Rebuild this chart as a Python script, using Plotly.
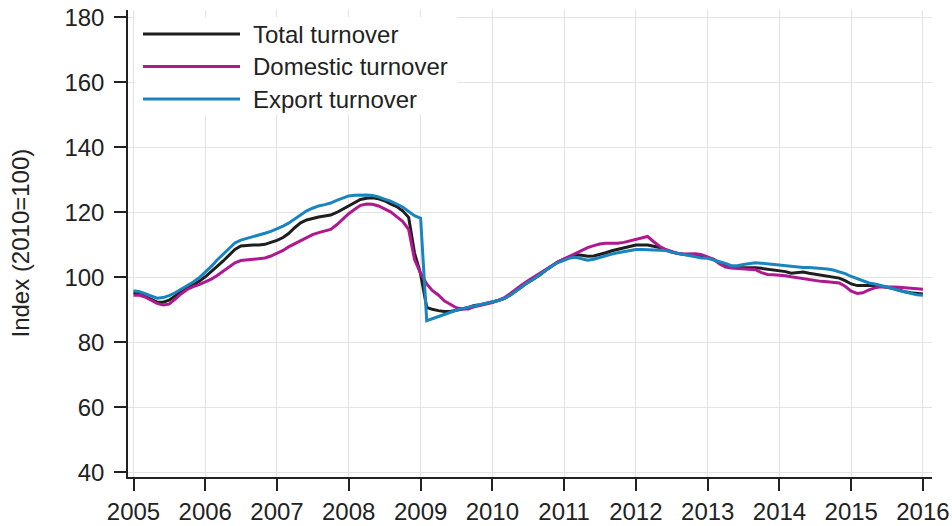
import pandas as pd
import plotly.graph_objects as go

# Monthly index values, Jan 2005 .. Jan 2016 (2010=100)
months = pd.date_range("2005-01-01", "2016-01-01", freq="MS")

total = [
    95.3, 95.0, 94.2, 93.2, 92.4, 92.4, 93.0, 94.3, 95.6, 96.8, 97.8, 98.8,
    100.2, 101.7, 103.3, 105.0, 106.8, 108.6, 109.7, 109.9, 110.0, 110.0, 110.2, 110.8,
    111.4, 112.3, 113.5, 115.3, 116.8, 117.7, 118.2, 118.6, 118.9, 119.2, 120.0, 121.0,
    122.0, 123.2, 124.0, 124.4, 124.5, 124.2, 123.6, 122.6, 121.8, 120.5, 118.5, 107.5,
    101.0, 90.8, 90.2, 89.8, 89.5, 89.5, 89.8, 90.3, 90.8, 91.4, 91.6, 92.0,
    92.5, 92.9, 93.5, 94.5, 95.8, 97.3, 98.5, 99.6, 100.8, 102.3, 103.6, 104.8,
    105.6, 106.3, 107.0, 106.8, 106.5, 106.6, 107.0, 107.6, 108.2, 108.7, 109.2, 109.6,
    110.0, 110.0, 110.0, 109.6, 109.2, 108.5, 107.8, 107.4, 107.2, 107.0, 106.8, 106.4,
    106.1, 105.5, 104.6, 103.8, 103.2, 103.1, 103.1, 103.1, 103.0, 102.8, 102.6, 102.4,
    102.1, 101.8, 101.3, 101.5, 101.7, 101.3, 101.0, 100.8, 100.6, 100.3, 99.8, 99.0,
    98.0, 97.5, 97.4, 97.5, 97.6, 97.4, 97.0, 96.6, 96.0, 95.6, 95.3, 95.0, 94.9,
]

domestic = [
    94.5, 94.5, 94.0, 93.0, 92.0, 91.5, 91.8, 93.3, 95.0, 96.3, 97.2, 97.8,
    98.6, 99.5, 100.5, 101.8, 103.2, 104.5, 105.2, 105.4, 105.5, 105.6, 106.0, 106.6,
    107.5, 108.3, 109.4, 110.4, 111.3, 112.2, 113.2, 113.8, 114.3, 114.8, 116.2, 118.0,
    119.6, 121.0, 122.2, 122.6, 122.5, 122.0, 121.2, 120.2, 118.7, 117.3, 114.8, 105.5,
    101.3, 98.0, 96.0, 94.6, 92.8, 91.7, 90.7, 90.3, 90.3, 91.0, 91.4, 91.9,
    92.3, 93.0, 93.7, 95.0, 96.5, 97.8, 99.0, 100.2, 101.4, 102.5, 103.7, 104.8,
    105.7, 106.6, 107.5, 108.2, 109.2, 109.8, 110.3, 110.5, 110.5, 110.5, 110.8, 111.3,
    111.8, 112.3, 112.6, 111.0, 109.6, 108.6, 107.9, 107.4, 107.2, 107.3, 107.3, 107.0,
    106.4, 105.6, 104.2, 103.2, 102.9, 102.8, 102.8, 102.7, 102.4, 101.5, 100.9, 100.8,
    100.7, 100.5, 100.2, 99.9, 99.6, 99.3, 99.0, 98.8, 98.7, 98.5, 98.3, 97.3,
    95.8, 95.1, 95.3, 96.2, 96.8, 97.1, 97.2, 97.1, 97.0, 96.8, 96.6, 96.5, 96.4,
]

export = [
    95.9, 95.6, 95.0, 94.2, 93.6, 93.8, 94.4, 95.3, 96.4, 97.5, 98.6, 99.9,
    101.6, 103.4, 105.3, 107.1, 109.0, 110.6, 111.5, 112.0, 112.4, 112.9, 113.6, 114.2,
    114.9, 115.8, 116.7, 118.0, 119.4, 120.5, 121.3, 122.0, 122.4, 122.9, 123.7, 124.4,
    125.1, 125.3, 125.4, 125.4, 125.2, 124.8, 124.1, 123.5, 122.6, 121.7, 120.3, 119.0,
    118.2, 86.7, 87.3, 88.0, 88.6, 89.3, 89.9, 90.4, 90.8, 91.2, 91.6, 92.0,
    92.5, 92.9, 93.5, 94.5, 95.8, 97.2, 98.5, 99.6, 100.8, 102.2, 103.5, 104.6,
    105.3, 106.0, 106.2, 105.8, 105.3, 105.6, 106.2, 106.7, 107.2, 107.6, 108.0, 108.4,
    108.6, 108.6, 108.5, 108.6, 108.5, 108.3, 107.8, 107.4, 107.0, 106.7, 106.4, 106.0,
    105.9, 105.4, 105.0, 104.3, 103.6, 103.6, 104.0, 104.3, 104.5, 104.4, 104.2, 103.9,
    103.7, 103.5, 103.3, 103.2, 103.1, 103.1, 103.0, 102.8, 102.6, 102.3, 101.8, 101.2,
    100.3, 99.6, 98.9, 98.3, 98.0, 97.6, 97.1, 96.6, 96.0, 95.5, 95.0, 94.7, 94.5,
]

series_names = ["Total turnover", "Domestic turnover", "Export turnover"]
series_values = [total, domestic, export]
series_colors = ["#1e1e1e", "#b0188f", "#1a84bf"]

y_ticks = [40, 60, 80, 100, 120, 140, 160, 180]
x_ticks = [f"{y}-01-01" for y in range(2005, 2017)]
x_labels = [str(y) for y in range(2005, 2017)]

FONT = "Liberation Sans, Arial, sans-serif"
FS = 24
TXT = "#222222"

fig = go.Figure()
for name, vals, col in zip(series_names, series_values, series_colors):
    fig.add_trace(go.Scatter(
        x=months, y=vals, mode="lines", name=name,
        line=dict(color=col, width=3), showlegend=False,
    ))

fig.update_layout(
    width=952, height=526,
    margin=dict(l=128, r=20, t=10, b=49, autoexpand=False),
    paper_bgcolor="white", plot_bgcolor="white",
    font=dict(family=FONT, size=FS, color=TXT),
)

fig.update_xaxes(
    type="date", automargin=False,
    range=["2004-12-04", "2016-02-16"],
    tickmode="array", tickvals=x_ticks, ticktext=x_labels,
    ticks="outside", ticklen=12, tickwidth=1.5, tickcolor="#222222",
    showline=True, linecolor="#222222", linewidth=1.5,
    showgrid=True, gridcolor="#e3e3e3", gridwidth=1.2,
    zeroline=False,
    tickfont=dict(family=FONT, size=FS, color=TXT),
)
fig.update_yaxes(
    automargin=False,
    range=[38.6, 182.3],
    tickmode="array", tickvals=y_ticks,
    ticks="outside", ticklen=12, tickwidth=1.5, tickcolor="#222222",
    ticklabelstandoff=5,
    showline=True, linecolor="#222222", linewidth=1.5,
    showgrid=True, gridcolor="#e3e3e3", gridwidth=1.2,
    zeroline=False,
    tickfont=dict(family=FONT, size=FS, color=TXT),
)

# axis title
fig.add_annotation(
    text="Index (2010=100)", xref="paper", yref="paper",
    x=(20 - 128) / 804, y=0.5, textangle=-90, showarrow=False,
    xanchor="center", yanchor="middle",
    font=dict(family=FONT, size=FS, color=TXT),
)

# custom legend (long line samples)
def px_x(px):
    return (px - 128) / 804

def px_y(py):
    return (477 - py) / 467

fig.add_shape(type="rect", xref="paper", yref="paper",
              x0=px_x(135), x1=px_x(457), y0=px_y(115), y1=px_y(17),
              fillcolor="white", line=dict(width=0), layer="above")
for i, (name, col) in enumerate(zip(series_names, series_colors)):
    yy = px_y(34 + i * 32.5)
    fig.add_shape(type="line", xref="paper", yref="paper",
                  x0=px_x(143), x1=px_x(240), y0=yy, y1=yy,
                  line=dict(color=col, width=3), layer="above")
    fig.add_annotation(text=name, xref="paper", yref="paper",
                       x=px_x(251), y=yy, xanchor="left", yanchor="middle",
                       showarrow=False,
                       font=dict(family=FONT, size=FS, color=TXT))

fig.write_html(
    "out.html",
    config={"displayModeBar": False},
    post_script="document.body.style.margin='0';document.body.style.overflow='hidden';",
)
